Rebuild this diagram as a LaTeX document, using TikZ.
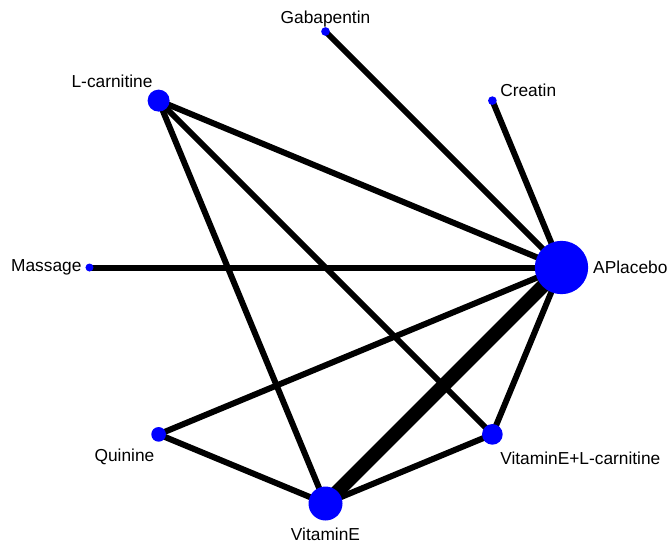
\documentclass[tikz,border=0pt]{standalone}
\usepackage{fontspec}
\setmainfont{Liberation Sans}
\usetikzlibrary{positioning,backgrounds}

\tikzset{
  trt/.style={circle,fill=blue,inner sep=0pt,minimum size=#1},
  lbl/.style={font=\fontsize{13}{15}\selectfont,inner sep=0pt},
  arm/.style={line width=4.5pt},
  armbig/.style={line width=10.5pt},
}

\begin{document}
\begin{tikzpicture}[x=0.75pt,y=0.75pt]
         \useasboundingbox (-325.5,-282.5) rectangle (344.5,267.5) ;
         % treatments sit on a circle of radius 236, sized by number of studies
         \node[trt=40pt] (apl) at (0:236) {} ;
         \node[trt=6.5pt] (cre) at (45:236) {} ;
         \node[trt=6.5pt] (gab) at (90:236) {} ;
         \node[trt=16.5pt] (lcar) at (135:236) {} ;
         \node[trt=6pt] (mas) at (180:236) {} ;
         \node[trt=11pt] (qui) at (225:236) {} ;
         \node[trt=25.5pt] (vite) at (270:236) {} ;
         \node[trt=15.5pt] (vel) at (315:236) {} ;
         % names
         \node[lbl,right=3.4pt of apl] {APlacebo} ;
         \node[lbl,above right=0.5pt and 3.3pt of cre] {Creatin} ;
         \node[lbl,above=-0.5pt of gab] {Gabapentin} ;
         \node[lbl,above left=3.4pt and -1.6pt of lcar] {L-carnitine} ;
         \node[lbl,left=2.6pt of mas] {Massage} ;
         \node[lbl,below left=6.7pt and -1pt of qui] {Quinine} ;
         \node[lbl,below=5pt of vite] {VitaminE} ;
         \node[lbl,below right=7.1pt and 0.1pt of vel] {VitaminE+L-carnitine} ;
         % comparisons, behind the dots
         \begin{pgfonlayer}{background}
         \draw[arm] (apl.center) -- (cre.center) ;
         \draw[arm] (apl.center) -- (gab.center) ;
         \draw[arm] (apl.center) -- (lcar.center) ;
         \draw[arm] (apl.center) -- (mas.center) ;
         \draw[arm] (apl.center) -- (qui.center) ;
         \draw[armbig] (apl.center) -- (vite.center) ;
         \draw[arm] (apl.center) -- (vel.center) ;
         \draw[arm] (lcar.center) -- (vite.center) ;
         \draw[arm] (lcar.center) -- (vel.center) ;
         \draw[arm] (qui.center) -- (vite.center) ;
         \draw[arm] (vite.center) -- (vel.center) ;
         \end{pgfonlayer}
\end{tikzpicture}
\end{document}
